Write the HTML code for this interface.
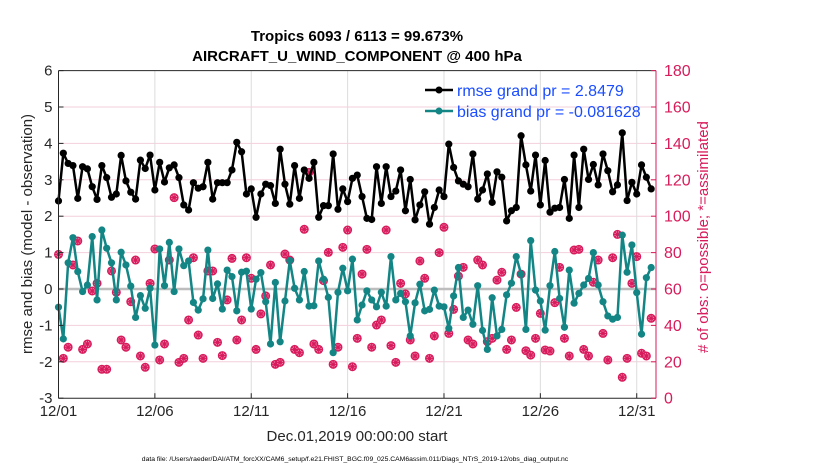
<!DOCTYPE html>
<html><head><meta charset="utf-8"><style>
body{margin:0;background:#fff;}
svg{display:block;font-family:"Liberation Sans",sans-serif;}
</style></head><body>
<svg id="chart" width="830" height="470" viewBox="0 0 830 470" xmlns="http://www.w3.org/2000/svg">
<rect width="830" height="470" fill="#fff"/>
<g id="grid"></g><g id="marks"></g><g id="axes"></g>
</svg>
<script>
const rmse=[2.42,3.73,3.45,3.39,2.49,3.36,3.30,2.81,2.46,3.39,3.06,2.52,2.61,3.67,2.97,2.66,2.47,3.54,3.31,3.68,2.72,3.48,2.94,3.33,3.41,3.06,2.31,2.17,2.92,2.77,2.81,3.48,2.47,2.92,2.92,2.92,3.27,4.03,3.77,2.61,2.75,1.97,2.61,2.88,2.84,2.35,3.84,2.88,2.33,3.39,2.49,3.27,3.04,3.48,1.97,2.29,2.29,3.71,2.19,2.75,2.40,3.04,3.13,2.54,1.94,1.91,3.36,2.35,3.36,2.54,2.69,3.27,2.15,3.01,1.90,2.31,2.67,1.78,2.24,2.72,2.54,3.98,3.34,2.97,2.88,2.81,3.71,2.47,2.72,3.16,2.38,3.22,3.07,1.87,2.15,2.24,4.21,3.41,2.69,3.68,2.31,3.53,2.11,2.22,2.24,3.01,1.94,3.68,2.24,3.84,3.01,3.42,2.86,3.71,3.25,2.67,2.86,4.29,2.43,2.93,2.61,3.41,3.07,2.75];
const bias=[-0.50,-1.37,0.72,1.41,0.48,-0.07,0.11,1.44,-0.30,1.62,1.12,0.72,-0.30,1.01,0.66,0.08,-0.78,-0.18,-0.53,0.02,-1.54,1.10,0.09,1.28,-0.07,1.10,0.64,0.77,-0.37,-0.58,-0.27,1.07,-0.26,0.14,-0.55,0.52,0.34,-0.60,0.46,0.49,-0.55,0.27,0.45,-0.35,-1.51,0.18,-1.45,-0.33,0.78,0.02,-0.30,0.48,-0.47,-0.46,0.77,0.27,-0.23,-1.75,-0.09,0.57,-0.05,0.82,-0.85,-0.44,-0.05,-0.30,-0.49,-0.09,-0.47,0.89,-0.30,-0.12,-0.35,-1.29,-0.38,0.13,-0.60,-0.56,-0.03,-0.47,-0.49,-1.08,-0.19,0.59,-0.78,-0.58,-0.97,0.09,-1.14,-1.66,-0.24,-1.29,-1.11,-0.16,0.16,0.89,0.41,-1.11,1.33,-0.03,-0.33,-1.13,0.09,1.03,-0.26,-1.05,0.52,-0.39,-0.12,0.11,0.29,1.00,0.11,-0.35,-0.74,-0.83,-0.78,1.48,0.46,1.21,-0.10,-1.24,0.31,0.59];
const nobs=[79.0,21.9,28.0,73.2,86.4,26.8,29.8,58.9,63.1,15.9,15.9,69.9,58.2,32.0,28.0,53.0,75.9,23.2,17.0,63.1,82.0,21.0,29.8,75.9,110.2,19.7,21.9,43.0,77.2,34.7,21.9,69.9,69.9,30.7,23.4,54.0,76.8,32.0,43.0,77.2,65.9,26.8,46.3,56.2,73.2,18.6,19.7,79.2,75.9,26.8,25.0,92.8,124.1,29.8,26.8,64.6,80.1,18.6,28.0,82.9,92.4,17.3,32.9,68.2,81.8,28.0,40.2,43.0,92.4,28.9,19.7,63.1,57.3,32.0,23.2,75.4,65.9,21.9,34.2,80.0,93.9,35.6,48.8,67.1,71.9,32.0,29.8,75.9,73.2,31.1,32.9,64.9,69.2,26.8,32.0,49.9,68.2,26.1,23.7,32.9,46.6,26.5,25.9,52.5,71.9,32.9,23.2,81.4,81.8,26.8,23.2,63.7,75.9,35.6,21.0,77.2,90.0,11.5,21.9,63.1,77.8,24.7,23.2,43.9];
const xTickLabels=["12/01","12/06","12/11","12/16","12/21","12/26","12/31"];
const yTicksLeft=[-3,-2,-1,0,1,2,3,4,5,6];
const yTicksRight=[0,20,40,60,80,100,120,140,160,180];

const X0=58.5,X1=656,Y0=398.2,Y1=70.6;
const days=31;
const xs=i=>X0+(i/4)*(X1-X0)/days;
const xd=d=>X0+d*(X1-X0)/days;
const yL=v=>Y0-(v+3)*(Y0-Y1)/9;
const yR=c=>Y0-c*(Y0-Y1)/180;
const NS="http://www.w3.org/2000/svg";
function mk(tag,attrs,parent,text){const e=document.createElementNS(NS,tag);for(const k in attrs)e.setAttribute(k,attrs[k]);if(text!==undefined)e.textContent=text;parent.appendChild(e);return e;}
const grid=document.getElementById('grid'),marks=document.getElementById('marks'),axes=document.getElementById('axes');
const RED="#d81b5c",TEAL="#138585";

yTicksLeft.forEach(v=>{if(v>-3&&v<6&&v!==0){const l=mk('line',{x1:X0,x2:X1,y1:yL(v),y2:yL(v),stroke:'#f3cfdc','stroke-width':1},grid);

}});
xTickLabels.forEach((t,i)=>{const x=xd(i*5);if(i>0){const l=mk('line',{x1:x,x2:x,y1:Y1,y2:Y0,stroke:'#dcdcdc','stroke-width':1},grid);

}});
const zl=mk('line',{x1:X0,x2:X1,y1:yL(0),y2:yL(0),stroke:'#bdbdbd','stroke-width':2.5},grid);



nobs.forEach((c,i)=>{const g=mk('g',{},marks);


const x=xs(i),y=yR(c);
mk('circle',{cx:x,cy:y,r:3.8,fill:'#f3a6c2',stroke:RED,'stroke-width':1.4},g);
for(let a=0;a<4;a++){const an=a*Math.PI/4,dx=3.8*Math.cos(an),dy=3.8*Math.sin(an);mk('line',{x1:x-dx,y1:y-dy,x2:x+dx,y2:y+dy,stroke:RED,'stroke-width':1.2},g);}});

function series(arr,color,name){
const p=mk('polyline',{points:arr.map((v,i)=>xs(i)+','+yL(v)).join(' '),fill:'none',stroke:color,'stroke-width':2.5,'stroke-linejoin':'round'},marks);


arr.forEach((v,i)=>{const c=mk('circle',{cx:xs(i),cy:yL(v),r:3.6,fill:color},marks);

});}
series(rmse,'#000','rmse');
series(bias,TEAL,'bias');

let a;
a=mk('line',{x1:X0,x2:X0,y1:Y1,y2:Y0,stroke:'#262626','stroke-width':1},axes);

a=mk('line',{x1:X0,x2:X1,y1:Y0,y2:Y0,stroke:'#262626','stroke-width':1},axes);

a=mk('line',{x1:X0,x2:X1,y1:Y1,y2:Y1,stroke:'#262626','stroke-width':1},axes);

a=mk('line',{x1:X1,x2:X1,y1:Y1,y2:Y0,stroke:RED,'stroke-width':1},axes);

yTicksLeft.forEach(v=>{const y=yL(v);mk('line',{x1:X0,x2:X0+5,y1:y,y2:y,stroke:'#262626'},axes);
const t=mk('text',{x:X0-6,y:y+5,'text-anchor':'end','font-size':15,fill:'#262626'},axes,String(v));

});
yTicksRight.forEach(c=>{const y=yR(c);mk('line',{x1:X1-5,x2:X1,y1:y,y2:y,stroke:RED},axes);
const t=mk('text',{x:X1+8,y:y+5.5,'font-size':16,fill:RED},axes,String(c));

});
xTickLabels.forEach((s,i)=>{const x=xd(i*5);mk('line',{x1:x,x2:x,y1:Y0,y2:Y0-5,stroke:'#262626'},axes);
const t=mk('text',{x:x,y:416,'text-anchor':'middle','font-size':15,fill:'#262626'},axes,s);

});
</script>
<svg style="position:absolute;left:0;top:0" width="830" height="470">
<text x="357" y="41" text-anchor="middle" font-size="15" font-weight="bold" fill="#000" font-family="Liberation Sans, sans-serif">Tropics 6093 / 6113 = 99.673%</text>
<text x="357" y="61" text-anchor="middle" font-size="15" font-weight="bold" fill="#000" font-family="Liberation Sans, sans-serif">AIRCRAFT_U_WIND_COMPONENT @ 400 hPa</text>
<text transform="translate(32,234) rotate(-90)" text-anchor="middle" font-size="15" fill="#262626" font-family="Liberation Sans, sans-serif">rmse and bias (model - observation)</text>
<text transform="translate(708,237) rotate(-90)" text-anchor="middle" font-size="15" fill="#d81b5c" font-family="Liberation Sans, sans-serif"># of obs: o=possible; *=assimilated</text>
<text x="357" y="441" text-anchor="middle" font-size="15" fill="#262626" font-family="Liberation Sans, sans-serif">Dec.01,2019 00:00:00 start</text>
<text x="355" y="461" text-anchor="middle" font-size="6.8" fill="#000" font-family="Liberation Sans, sans-serif">data file: /Users/raeder/DAI/ATM_forcXX/CAM6_setup/f.e21.FHIST_BGC.f09_025.CAM6assim.011/Diags_NTrS_2019-12/obs_diag_output.nc</text>
<g font-family="Liberation Sans, sans-serif">
<g>
<line x1="425" x2="453" y1="90" y2="90" stroke="#000" stroke-width="2.5"/><circle cx="439" cy="90" r="3.5" fill="#000"/>
<text x="457" y="96" font-size="16" fill="#1a4dff">rmse grand pr = 2.8479</text></g>
<g>
<line x1="425" x2="453" y1="111" y2="111" stroke="#138585" stroke-width="2.5"/><circle cx="439" cy="111" r="3.5" fill="#138585"/>
<text x="457" y="117" font-size="16" fill="#1a4dff">bias grand pr = -0.081628</text></g>
</g>
</svg>
</body></html>
